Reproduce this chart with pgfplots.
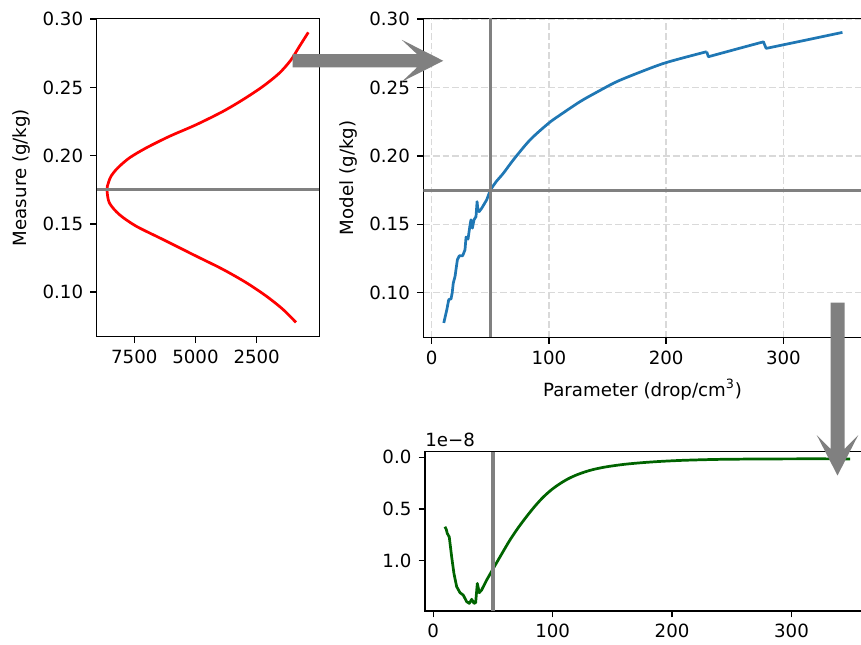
\documentclass[border=0pt]{standalone}
\usepackage{pgfplots}
\pgfplotsset{compat=1.18}
\usepackage{fontspec}
\setmainfont{DejaVu Sans}
\definecolor{mplblue}{RGB}{31,119,180}
\definecolor{mplgreen}{RGB}{0,100,0}
\definecolor{mplgray}{RGB}{128,128,128}
\pgfplotsset{
  mpl/.style={
    scale only axis,
    anchor=south west,
    axis line style={line width=0.73pt, black},
    every tick/.style={line width=0.73pt, black},
    major tick length=3.2pt,
    tick align=outside,
    tick pos=left,
    ticklabel style={font=\fontsize{9.1}{11}\selectfont},
    /pgf/number format/assume math mode=true,
    /pgf/number format/1000 sep={},
    every axis y label/.style={at={(rel axis cs:0,0.5)}, xshift=-37.5pt, rotate=90, anchor=center, font=\fontsize{9.1}{11}\selectfont},
    every axis x label/.style={at={(rel axis cs:0.5,0)}, anchor=center, yshift=-26.3pt, font=\fontsize{9.1}{11}\selectfont},
  }
}
\begin{document}
\begin{tikzpicture}
\useasboundingbox (0,0) rectangle (430.5pt,322pt);
\clip (0,0) rectangle (430.5pt,322pt);

% left axis
\begin{axis}[mpl, at={(48.3pt,153.65pt)}, width=111.4pt, height=159.2pt,
  x dir=reverse, xmin=-63, xmax=9041, ymin=0.0674, ymax=0.3006,
  xtick={2500,5000,7500}, ytick={0.10,0.15,0.20,0.25,0.30},
  yticklabel style={/pgf/number format/.cd,fixed,fixed zerofill,precision=2},
  ylabel={Measure (g/kg)}]
\addplot[red, line width=1.36pt, smooth] coordinates {
(895,0.0779) (1438,0.0876) (2120,0.0973) (2937,0.1071) (3889,0.1168)
(4980,0.1265) (6340,0.1387) (7430,0.1484) (8113,0.1569) (8521,0.1655)
(8616,0.1752) (8560,0.1800) (8452,0.1849) (8178,0.1910) (7704,0.1983)
(7022,0.2056) (6070,0.2141) (4980,0.2226) (3889,0.2323) (3072,0.2409)
(2255,0.2506) (1577,0.2604) (1099,0.2701) (760,0.2798) (390,0.2903)};
\addplot[mplgray, line width=1.6pt] coordinates {(-63,0.175) (9041,0.175)};
\end{axis}

% top right axis
\begin{axis}[mpl, at={(211.65pt,153.35pt)}, width=219.3pt, height=159.5pt,
  xmin=-7.17, xmax=367, ymin=0.0674, ymax=0.3006,
  xtick={0,100,200,300}, ytick={0.10,0.15,0.20,0.25,0.30},
  yticklabel style={/pgf/number format/.cd,fixed,fixed zerofill,precision=2},
  grid=major, grid style={color=gray!30, line width=0.65pt, dash pattern=on 3.3pt off 1.5pt},
  xlabel={Parameter (drop/cm\textsuperscript{3})}, ylabel={Model (g/kg)}]
\addplot[mplblue, line width=1.36pt, line join=round] coordinates {
(10.3,0.0779) (13.0,0.0880) (14.5,0.0949) (16.5,0.0955) (17.5,0.1000)
(18.4,0.1071) (19.9,0.1119) (21.9,0.1241) (23.6,0.1270) (26.4,0.1270)
(28.4,0.1314) (29.3,0.1407) (31.0,0.1392) (32.7,0.1496) (33.5,0.1533)
(34.7,0.1472) (36.1,0.1533) (37.8,0.1557) (38.7,0.1666) (39.5,0.1600)
(40.5,0.1593) (42.7,0.1618) (46.9,0.1679) (50.0,0.1750)};
\addplot[mplblue, line width=1.36pt, smooth] coordinates {
(50.0,0.1750) (55,0.1812)
(61.1,0.1873) (70,0.1975) (83.9,0.2117) (99.6,0.2238) (110,0.2302)
(126.6,0.2397) (140,0.2462) (157.9,0.2543) (180,0.2620) (197.7,0.2676)
(215,0.2718) (234.6,0.2762)};
\addplot[mplblue, line width=1.36pt, line join=round] coordinates {
(234.6,0.2762) (236.0,0.2725) (260,0.2781) (283,0.2834)
(285.3,0.2786) (320,0.2848) (350.4,0.2903)};
\addplot[mplgray, line width=1.6pt] coordinates {(50,0.0674) (50,0.3006)};
\addplot[mplgray, line width=1.6pt] coordinates {(-7.17,0.175) (367,0.175)};
\end{axis}

% bottom right axis
\begin{axis}[mpl, at={(212.45pt,16.5pt)}, width=223.3pt, height=79.65pt,
  xmin=-7.0, xmax=367, ymin=-0.054, ymax=1.486, y dir=reverse,
  xtick={0,100,200,300}, ytick={0,0.5,1.0},
  yticklabel style={/pgf/number format/.cd,fixed,fixed zerofill,precision=1}]
\addplot[mplgreen, line width=1.36pt, line join=round] coordinates {
(9.8,0.671) (11.0,0.700) (11.7,0.735) (13.4,0.770) (15.4,0.961)
(17.3,1.122) (19.6,1.251) (22.4,1.309) (25.1,1.332) (28.0,1.396)
(30.2,1.412) (32.2,1.373) (34.1,1.412) (35.5,1.405) (36.9,1.219)
(38.5,1.309) (40.5,1.283) (44.7,1.187) (50.3,1.074)};
\addplot[mplgreen, line width=1.36pt, smooth] coordinates {
(50.3,1.074) (57.3,0.935) (64.2,0.800) (71.2,0.680) (78.2,0.572)
(85.2,0.472) (92.1,0.385) (99.2,0.312) (106.1,0.255) (113.1,0.207)
(120.1,0.170) (127.1,0.141) (134.0,0.118) (145,0.092) (160,0.068)
(175,0.052) (190,0.040) (210,0.029) (240,0.020) (280,0.016)
(320,0.015) (349,0.016)};
\addplot[mplgray, line width=1.6pt] coordinates {(50,-0.054) (50,1.486)};
\end{axis}
\node[anchor=south west, inner sep=0pt, font=\fontsize{9.1}{11}\selectfont] at (212.45pt,98.4pt) {1e−8};

% arrows
\fill[mplgray] (146.35pt,294.95pt) -- (208.5pt,294.95pt) -- (200.85pt,302.1pt) -- (221.65pt,291.6pt)
  -- (200.85pt,281.1pt) -- (208.5pt,288.25pt) -- (146.35pt,288.25pt) -- cycle;
\fill[mplgray] (415.25pt,170.65pt) -- (415.25pt,97.5pt) -- (408.35pt,104.5pt) -- (418.75pt,84.25pt)
  -- (429.15pt,104.5pt) -- (422.25pt,97.5pt) -- (422.25pt,170.65pt) -- cycle;
\end{tikzpicture}
\end{document}
